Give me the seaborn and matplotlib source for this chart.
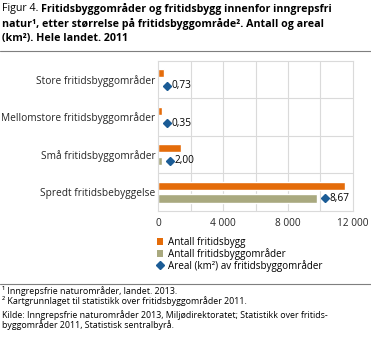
import matplotlib
matplotlib.use("Agg")
import matplotlib.pyplot as plt
from matplotlib.lines import Line2D
from matplotlib.patches import Patch
from matplotlib.transforms import offset_copy
import pandas as pd
import seaborn as sns

categories = ["Store fritidsbyggområder", "Mellomstore fritidsbyggområder",
              "Små fritidsbyggområder", "Spredt fritidsbebyggelse"]
antall_fritidsbygg = [350, 230, 1380, 11530]
antall_omrader = [20, 20, 230, 9780]
areal_km2 = [0.73, 0.35, 2.00, 8.67]
series_names = ["Antall fritidsbygg", "Antall fritidsbyggområder",
                "Areal (km²) av fritidsbyggområder"]
x_ticks = [0, 4000, 8000, 12000]
x_ticklabels = ["0", "4 000", "8 000", "12 000"]

ORANGE = "#E46C0A"
OLIVE = "#A9A97F"
BLUE = "#1B5C96"
GRID = "#DADADA"
FONT = ["Open Sans", "DejaVu Sans"]

sns.set_theme(style="white")
plt.rcParams["font.family"] = FONT
plt.rcParams["text.color"] = "#000000"

df = pd.DataFrame({
    "kategori": categories * 2,
    "verdi": antall_fritidsbygg + antall_omrader,
    "serie": [series_names[0]] * 4 + [series_names[1]] * 4,
})

W, H = 371, 345
fig = plt.figure(figsize=(W / 100, H / 100), dpi=100)
ax = fig.add_axes([158.3 / W, (H - 211) / H, 194.4 / W, 150.5 / H])

sns.barplot(data=df, x="verdi", y="kategori", hue="serie", orient="h",
            palette=[ORANGE, OLIVE], width=0.667, gap=0.345,
            order=categories, ax=ax, legend=False, saturation=1)

ax.set_xlim(0, 12000)
ax.set_ylim(3.5, -0.5)
ax.set_xticks(x_ticks)
ax.set_xticklabels(x_ticklabels, fontsize=7.3)
for x in range(2000, 12000, 2000):
    ax.axvline(x, color=GRID, lw=0.8, zorder=0)
for y in [0.5, 1.5, 2.5]:
    ax.axhline(y, color=GRID, lw=0.8, zorder=0)
for s in ax.spines.values():
    s.set_color(GRID)
    s.set_linewidth(0.8)
ax.set_xlabel("")
ax.set_ylabel("")
ax.tick_params(axis="y", labelsize=7.3, length=0, pad=2)
ax.tick_params(axis="x", length=0, pad=5)

# Area markers with value labels, placed just past the end of each olive bar
green_off = 0.1667
for i, (v, a) in enumerate(zip(antall_omrader, areal_km2)):
    tr = offset_copy(ax.transData, fig=fig, x=5.8, y=0, units="points")
    ax.plot([v], [i + green_off], marker="D", ms=4.3, color=BLUE,
            transform=tr, clip_on=False, zorder=5)
    tr2 = offset_copy(ax.transData, fig=fig, x=9.3, y=0, units="points")
    ax.text(v, i + green_off, f"{a:.2f}".replace(".", ","), transform=tr2,
            ha="left", va="center", fontsize=7.3, clip_on=False)

# Legend
handles = [Patch(facecolor=ORANGE, edgecolor="none"),
           Patch(facecolor=OLIVE, edgecolor="none"),
           Line2D([], [], marker="D", ms=4.3, color=BLUE, lw=0)]
fig.legend(handles, series_names, loc="upper left",
           bbox_to_anchor=(157 / W, (H - 237) / H), frameon=False,
           fontsize=7.1, handlelength=0.65, handleheight=0.65,
           handletextpad=0.45, labelspacing=0.0, borderpad=0, borderaxespad=0)

# Title: regular figure number followed by bold heading
title_fs = 7.7
t0 = fig.text(2 / W, 1 - 8.5 / H, "Figur 4. ", fontsize=title_fs,
              va="center", ha="left")
renderer = fig.canvas.get_renderer()
bb = t0.get_window_extent(renderer)
fig.text(bb.x1 / W, 1 - 8.5 / H,
         "Fritidsbyggområder og fritidsbygg innenfor inngrepsfri",
         fontsize=title_fs, fontweight="bold", va="center", ha="left")
fig.text(2 / W, 1 - 23.5 / H,
         "natur¹, etter størrelse på fritidsbyggområde². Antall og areal",
         fontsize=title_fs, fontweight="bold", va="center", ha="left")
fig.text(2 / W, 1 - 38.5 / H, "(km²). Hele landet. 2011",
         fontsize=title_fs, fontweight="bold", va="center", ha="left")
fig.add_artist(Line2D([0, 1], [1 - 50.5 / H] * 2, color="#7F7F7F", lw=0.8))

# Footnotes and source
fig.add_artist(Line2D([0, 1], [1 - 283.5 / H] * 2, color="#7F7F7F", lw=0.8))
foot = [("¹ Inngrepsfrie naturområder, landet. 2013.", 291.5),
        ("² Kartgrunnlaget til statistikk over fritidsbyggområder 2011.", 301.5),
        ("Kilde: Inngrepsfrie naturområder 2013, Miljødirektoratet; Statistikk over fritids-", 315),
        ("byggområder 2011, Statistisk sentralbyrå.", 325)]
for txt, y in foot:
    fig.text(2 / W, 1 - y / H, txt, fontsize=6.4, va="center", ha="left")

fig.savefig("out.png", dpi=100)
